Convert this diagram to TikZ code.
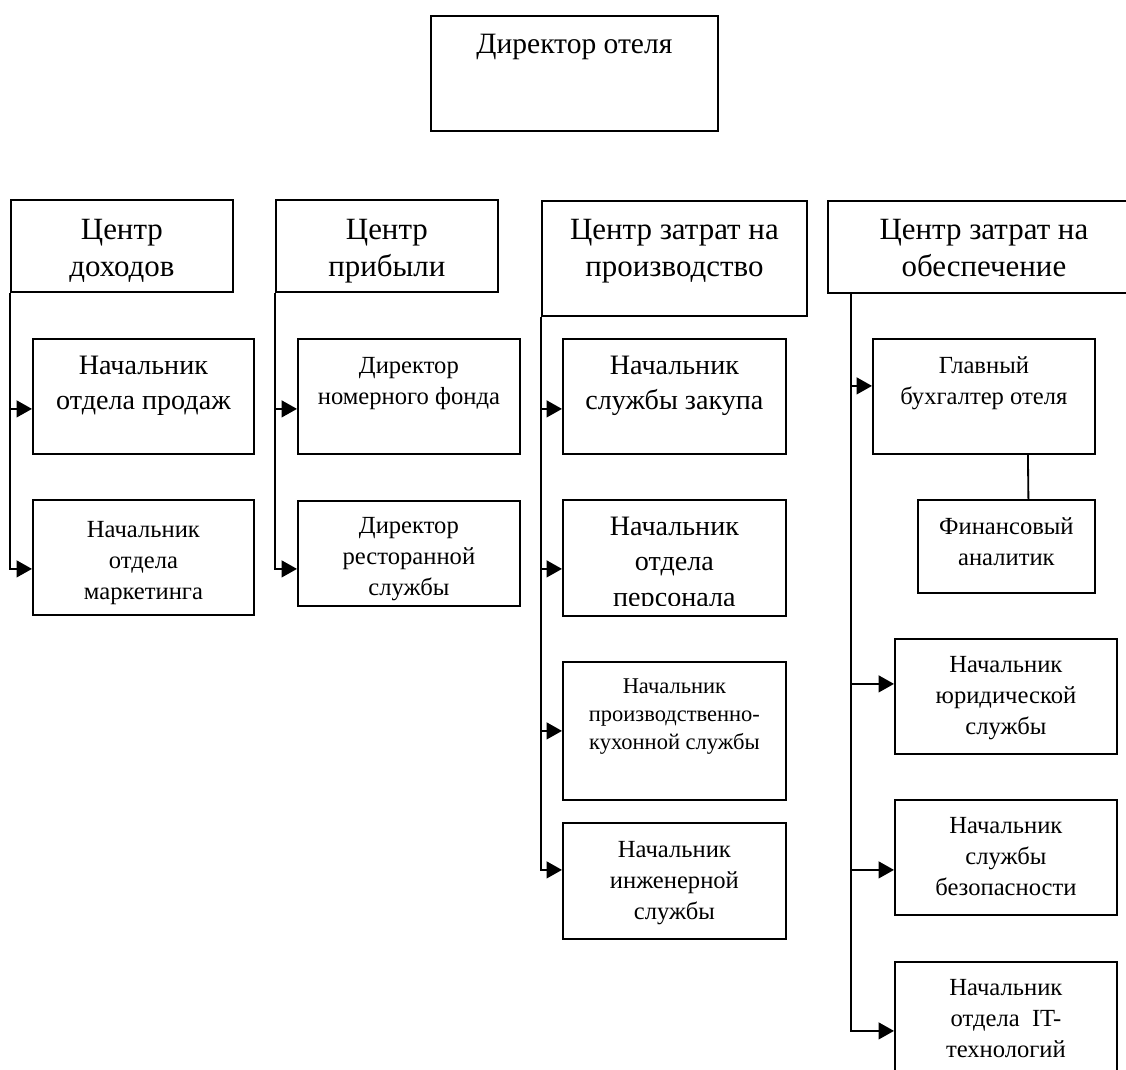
\documentclass[tikz,border=0pt]{standalone}
\usepackage{fontspec}
\setmainfont{Liberation Serif}
\usetikzlibrary{arrows.meta,calc,positioning}

\begin{document}
\begin{tikzpicture}[x=0.025cm, y=-0.025cm,
    box/.style={draw, line width=1.3pt, inner sep=0pt, anchor=north west},
    sz/.style 2 args={minimum width=#1*0.025cm, minimum height=#2*0.025cm},
    head/.style={anchor=north, align=center, inner sep=0pt, font=\fontsize{22}{26}\selectfont},
    big/.style={anchor=north, align=center, inner sep=0pt, font=\fontsize{20}{25}\selectfont},
    mid/.style={anchor=north, align=center, inner sep=0pt, font=\fontsize{17.5}{22}\selectfont},
    small/.style={anchor=north, align=center, inner sep=0pt, font=\fontsize{16}{20}\selectfont},
    link/.style={line width=1.3pt},
    conn/.style={line width=1.3pt, -{Triangle[length=11pt, width=12pt]}}]

    \useasboundingbox (0,0) rectangle (1126,1070);

    % Director
    \node[box, sz={287}{115}] (dir) at (430,15) {};
    \node[big, font=\fontsize{21}{25}\selectfont] (dirt) at ($(dir.north)+(0,19)$) {Директор отеля};

    % Centres
    \node[box, sz={222}{92}] (rev) at (10,199) {};
    \node[head] (revt) at ($(rev.north)+(0,20)$) {Центр\\доходов};
    \node[box, sz={222}{92}] (prof) at (275,199) {};
    \node[head] (proft) at ($(prof.north)+(0,20)$) {Центр\\прибыли};
    \node[box, sz={265}{115}] (prod) at (541,200) {};
    \node[head] (prodt) at ($(prod.north)+(0,19)$) {Центр затрат на\\производство};
    \node[box, sz={312}{92}] (supp) at (827,200) {};
    \node[head] (suppt) at ($(supp.north)+(0,19)$) {Центр затрат на\\обеспечение};

    % Revenue centre
    \node[box, sz={221}{115}] (sales) at (32,338) {};
    \node[big] (salest) at ($(sales.north)+(0,18)$) {Начальник\\отдела продаж};
    \node[box, sz={221}{115}] (mkt) at (32,499) {};
    \node[mid] (mktt) at ($(mkt.north)+(0,22)$) {Начальник\\отдела\\маркетинга};

    % Profit centre
    \node[box, sz={222}{115}] (rooms) at (297,338) {};
    \node[mid] (roomst) at ($(rooms.north)+(0,19)$) {Директор\\номерного фонда};
    \node[box, sz={222}{105}] (rest) at (297,500) {};
    \node[mid] (restt) at ($(rest.north)+(0,17)$) {Директор\\ресторанной\\службы};

    % Production costs
    \node[box, sz={223}{115}] (buy) at (562,338) {};
    \node[big] (buyt) at ($(buy.north)+(0,18)$) {Начальник\\службы закупа};
    \node[box, sz={223}{116}] (staff) at (562,499) {};
    \begin{scope}
        \clip (staff.north west) rectangle ($(staff.south east)+(0,-11)$);
        \node[big] (stafft) at ($(staff.north)+(0,18)$) {Начальник\\отдела\\персонала};
    \end{scope}
    \node[box, sz={223}{138}] (kitch) at (562,661) {};
    \node[small] (kitcht) at ($(kitch.north)+(0,17)$) {Начальник\\производственно-\\кухонной службы};
    \node[box, sz={223}{116}] (eng) at (562,822) {};
    \node[mid] (engt) at ($(eng.north)+(0,19)$) {Начальник\\инженерной\\службы};

    % Support costs
    \node[box, sz={222}{115}] (acc) at (872,338) {};
    \node[mid] (acct) at ($(acc.north)+(0,18)$) {Главный\\бухгалтер отеля};
    \node[box, sz={177}{93}] (fin) at (917,499) {};
    \node[mid] (fint) at ($(fin.north)+(0,18)$) {Финансовый\\аналитик};
    \node[box, sz={222}{115}] (law) at (894,638) {};
    \node[mid] (lawt) at ($(law.north)+(0,18)$) {Начальник\\юридической\\службы};
    \node[box, sz={222}{115}] (sec) at (894,799) {};
    \node[mid] (sect) at ($(sec.north)+(0,18)$) {Начальник\\службы\\безопасности};
    \node[box, sz={222}{115}] (itd) at (894,961) {};
    \node[mid] (itdt) at ($(itd.north)+(0,18)$) {Начальник\\отдела~ IT-\\технологий};

    % Connectors
    \draw[conn] (rev.south west) |- ($(sales.west)+(0,12.5)$);
    \draw[conn] (rev.south west) |- ($(mkt.west)+(0,11.5)$);
    \draw[conn] (prof.south west) |- ($(rooms.west)+(0,12.5)$);
    \draw[conn] (prof.south west) |- ($(rest.west)+(0,15.5)$);
    \draw[conn] (prod.south west) |- ($(buy.west)+(0,12.5)$);
    \draw[conn] (prod.south west) |- ($(staff.west)+(0,11)$);
    \draw[conn] (prod.south west) |- (kitch.west);
    \draw[conn] (prod.south west) |- ($(eng.west)+(0,-11)$);
    \coordinate (spine) at ($(supp.south west)+(24,0)$);
    \draw[conn] (spine) |- ($(acc.west)+(0,-10.5)$);
    \draw[conn] (spine) |- ($(law.west)+(0,-12.5)$);
    \draw[conn] (spine) |- ($(sec.west)+(0,12.5)$);
    \draw[conn] (spine) |- ($(itd.west)+(0,11.5)$);
    \draw[link] ($(acc.south)+(44,0)$) -- ($(fin.north)+(22,0)$);

\end{tikzpicture}
\end{document}
